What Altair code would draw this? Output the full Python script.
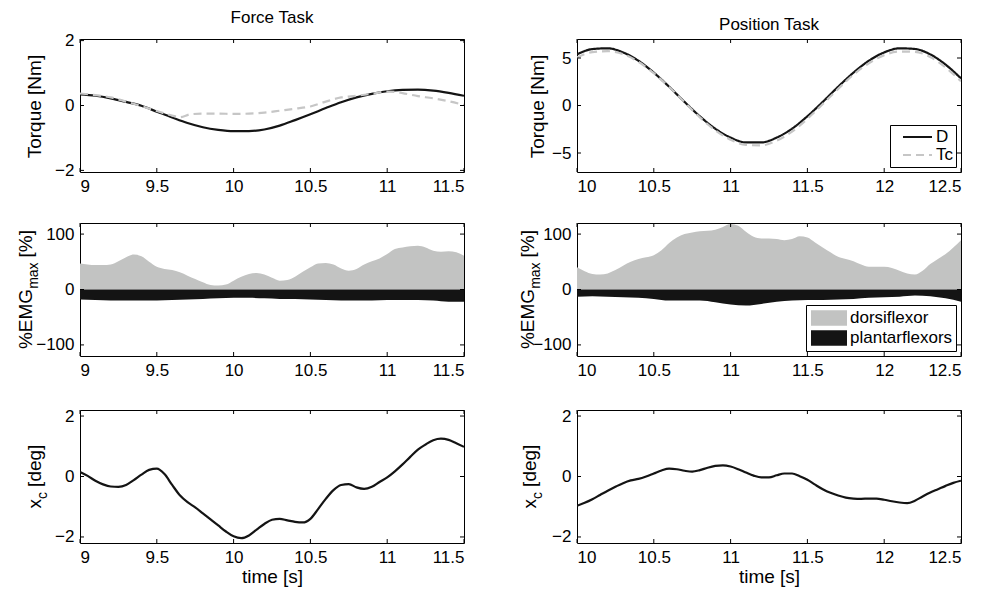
import altair as alt
import pandas as pd

FONT = "Liberation Sans"
BLACK = "#141414"
GRAY_LINE = "#c6c6c6"
GRAY_FILL = "#c2c3c2"
W, H = 384, 133

# ---------------- data ----------------
# Force task: torque
force_t = [9.0, 9.1, 9.2, 9.3, 9.4, 9.5, 9.6, 9.7, 9.8, 9.9, 10.0, 10.1, 10.2,
           10.3, 10.4, 10.5, 10.6, 10.7, 10.8, 10.9, 11.0, 11.1, 11.2, 11.3, 11.4, 11.5]
force_D = [0.34, 0.30, 0.22, 0.11, -0.01, -0.19, -0.37, -0.54, -0.67, -0.75, -0.79, -0.79, -0.74,
           -0.62, -0.45, -0.27, -0.08, 0.10, 0.25, 0.36, 0.44, 0.48, 0.49, 0.46, 0.39, 0.30]
force_tc_t = [9.0, 9.1, 9.2, 9.3, 9.4, 9.5, 9.6, 9.65, 9.72, 9.8, 9.9, 10.0, 10.1, 10.2, 10.3,
              10.4, 10.5, 10.6, 10.7, 10.8, 10.9, 11.0, 11.05, 11.1, 11.2, 11.3, 11.4, 11.5]
force_Tc = [0.37, 0.32, 0.25, 0.12, -0.02, -0.17, -0.31, -0.36, -0.27, -0.25, -0.25, -0.26, -0.25,
            -0.22, -0.16, -0.10, -0.03, 0.12, 0.25, 0.30, 0.36, 0.43, 0.42, 0.38, 0.29, 0.22, 0.13, 0.02]

# Position task: torque
pos_t = [10.0, 10.1, 10.2, 10.3, 10.4, 10.5, 10.6, 10.7, 10.8, 10.9, 11.0, 11.1, 11.2,
         11.3, 11.4, 11.5, 11.6, 11.7, 11.8, 11.9, 12.0, 12.1, 12.2, 12.3, 12.4, 12.5]
pos_D = [5.38, 5.94, 6.02, 5.59, 4.71, 3.46, 1.97, 0.38, -1.14, -2.44, -3.38, -3.89, -3.89,
         -3.38, -2.44, -1.13, 0.38, 1.97, 3.46, 4.71, 5.59, 6.02, 5.95, 5.38, 4.30, 2.85]
pos_Tc = [5.05, 5.62, 5.72, 5.40, 4.60, 3.40, 1.95, 0.35, -1.25, -2.60, -3.60, -4.15, -4.20,
          -3.70, -2.75, -1.40, 0.15, 1.75, 3.25, 4.45, 5.30, 5.68, 5.65, 5.10, 4.00, 2.55]

# Force task: EMG
force_emg_t = [9.0, 9.05, 9.1, 9.15, 9.2, 9.25, 9.3, 9.35, 9.4, 9.45, 9.5, 9.55, 9.6, 9.65, 9.7,
               9.75, 9.8, 9.85, 9.9, 9.95, 10.0, 10.05, 10.1, 10.15, 10.2, 10.25, 10.3, 10.35,
               10.4, 10.45, 10.5, 10.55, 10.6, 10.65, 10.7, 10.75, 10.8, 10.85, 10.9, 10.95,
               11.0, 11.05, 11.1, 11.15, 11.2, 11.25, 11.3, 11.35, 11.4, 11.45, 11.5]
force_dorsi = [47, 45, 44, 44, 45, 51, 58, 63, 60, 50, 41, 37, 35, 31, 25,
               19, 13, 8, 7, 9, 16, 23, 28, 30, 27, 21, 16, 17,
               23, 32, 40, 47, 48, 45, 38, 34, 37, 45, 51, 56,
               64, 73, 76, 78, 79, 76, 70, 68, 69, 67, 61]
force_pl_t = force_t
force_plantar = [-18, -19, -20, -20, -20, -20, -19, -18, -17, -16, -15, -15, -16,
                 -17, -17, -18, -19, -20, -20, -20, -19, -19, -19, -20, -22, -22]

# Position task: EMG
pos_emg_t = [10.0, 10.05, 10.1, 10.15, 10.2, 10.25, 10.3, 10.35, 10.4, 10.45, 10.5, 10.55, 10.6,
             10.65, 10.7, 10.75, 10.8, 10.85, 10.9, 10.95, 11.0, 11.05, 11.1, 11.15, 11.2, 11.25,
             11.3, 11.35, 11.4, 11.45, 11.5, 11.55, 11.6, 11.65, 11.7, 11.75, 11.8, 11.85, 11.9,
             11.95, 12.0, 12.05, 12.1, 12.15, 12.2, 12.25, 12.3, 12.35, 12.4, 12.45, 12.5]
pos_dorsi = [40, 33, 28, 27, 29, 35, 43, 50, 55, 58, 62, 71, 84,
             94, 100, 103, 105, 106, 108, 113, 118, 115, 104, 95, 92, 92,
             91, 89, 91, 96, 94, 85, 76, 67, 59, 55, 51, 45, 41,
             41, 41, 39, 34, 29, 27, 34, 46, 55, 64, 76, 89]
pos_pl_t = pos_t
pos_plantar = [-13, -12, -13, -14, -15, -17, -20, -20, -20, -23, -27, -29, -26,
               -22, -20, -19, -19, -18, -17, -15, -14, -13, -11, -12, -16, -22]

# x_c
force_xc_t = force_emg_t
force_xc = [0.15, 0.02, -0.14, -0.26, -0.33, -0.34, -0.28, -0.12, 0.06, 0.22, 0.26, 0.08, -0.28,
            -0.62, -0.85, -1.02, -1.22, -1.42, -1.62, -1.82, -1.98, -2.04, -1.95, -1.76, -1.57,
            -1.43, -1.40, -1.45, -1.50, -1.52, -1.40, -1.08, -0.74, -0.45, -0.28, -0.25, -0.36,
            -0.41, -0.34, -0.18, -0.03, 0.17, 0.40, 0.65, 0.89, 1.06, 1.20, 1.25, 1.21, 1.10, 0.98]
pos_xc_t = pos_emg_t
pos_xc = [-0.97, -0.87, -0.75, -0.61, -0.47, -0.34, -0.22, -0.13, -0.08, 0.00, 0.10, 0.20, 0.26,
          0.24, 0.19, 0.16, 0.21, 0.29, 0.35, 0.37, 0.33, 0.24, 0.13, 0.03, -0.03, -0.03,
          0.04, 0.10, 0.10, 0.01, -0.11, -0.27, -0.42, -0.54, -0.63, -0.70, -0.73, -0.74, -0.73,
          -0.73, -0.77, -0.82, -0.86, -0.88, -0.80, -0.66, -0.53, -0.42, -0.31, -0.21, -0.14]

force_xticks = [9, 9.5, 10, 10.5, 11, 11.5]
pos_xticks = [10, 10.5, 11, 11.5, 12, 12.5]

# ------------- helpers -------------
CHAR_W = {'%': 0.889, 'E': 0.667, 'M': 0.833, 'G': 0.778, 'm': 0.833, 'a': 0.556, 'x': 0.5,
          ' ': 0.278, '[': 0.278, ']': 0.278, 'd': 0.556, 'e': 0.556, 'g': 0.556, 'c': 0.5,
          'T': 0.611, 'o': 0.556, 'r': 0.333, 'q': 0.556, 'u': 0.556, 'N': 0.722}


def text_len(s, fs):
    return sum(CHAR_W.get(ch, 0.556) for ch in s) * fs


one = pd.DataFrame({'a': [0]})
TFS = 19  # axis title font size
SFS = 14  # subscript font size


def ytitle_layers(pieces, xbase):
    # pieces: (text, fontSize, baseline shift, gap before)
    total = sum(text_len(t, fs) + gap for t, fs, _, gap in pieces)
    y = H / 2 + total / 2
    out = []
    for t, fs, shift, gap in pieces:
        y -= gap
        out.append(alt.Chart(one).mark_text(angle=270, align='left', baseline='alphabetic',
                                            fontSize=fs, font=FONT, color='black')
                   .encode(x=alt.value(xbase + shift), y=alt.value(y), text=alt.value(t)))
        y -= text_len(t, fs)
    return out


def panel(layers, xdom, ydom, xticks, yticks, pieces, xbase, title=None, xtitle=None):
    xaxis = alt.Axis(values=xticks, format='~r', tickSize=0, domain=False, grid=False,
                     labelPadding=6, title=xtitle, titlePadding=2)
    yaxis = alt.Axis(values=yticks, format='~r', tickSize=0, domain=False, grid=False,
                     labelPadding=6, title=None)
    xe = alt.X('x:Q', scale=alt.Scale(domain=xdom, nice=False, zero=False), axis=xaxis)
    ye = alt.Y('y:Q', scale=alt.Scale(domain=ydom, nice=False, zero=False), axis=yaxis)
    charts = [f(xe, ye) for f in layers]
    xt = alt.Chart(pd.DataFrame({'x': xticks}))
    yt = alt.Chart(pd.DataFrame({'y': yticks}))
    charts += [
        xt.mark_rule(color='black', strokeWidth=1).encode(x=xe, y=alt.value(H), y2=alt.value(H - 4)),
        xt.mark_rule(color='black', strokeWidth=1).encode(x=xe, y=alt.value(0), y2=alt.value(4)),
        yt.mark_rule(color='black', strokeWidth=1).encode(y=ye, x=alt.value(0), x2=alt.value(4)),
        yt.mark_rule(color='black', strokeWidth=1).encode(y=ye, x=alt.value(W), x2=alt.value(W - 4)),
    ]
    charts += ytitle_layers(pieces, xbase)
    ch = alt.layer(*charts).properties(width=W, height=H)
    if title:
        ch = ch.properties(title=alt.TitleParams(title, anchor='middle', offset=5, fontSize=17,
                                                 font=FONT, fontWeight='normal', color='black'))
    return ch


def line_layer(t, v, color, dash=None):
    df = pd.DataFrame({'x': t, 'y': v})

    def f(xe, ye):
        kw = dict(color=color, strokeWidth=2.2, interpolate='monotone', clip=True)
        if dash:
            kw['strokeDash'] = dash
        return alt.Chart(df).mark_line(**kw).encode(x=xe, y=ye)
    return f


def legend_lines(t, d, tc):
    df = pd.DataFrame({'x': t + t, 'y': d + tc, 's': ['D'] * len(t) + ['Tc'] * len(t)})
    leg = dict(orient='bottom-right', offset=5, strokeColor='black', fillColor='white',
               padding=3, title=None, labelFontSize=17, labelFont=FONT, labelColor='black',
               symbolType='stroke', symbolSize=841, symbolStrokeWidth=2, rowPadding=0,
               clipHeight=18, symbolOffset=9, labelOffset=3, cornerRadius=0)

    def f(xe, ye):
        return alt.Chart(df).mark_line(strokeWidth=2.2, interpolate='monotone', clip=True).encode(
            x=xe, y=ye,
            color=alt.Color('s:N', scale=alt.Scale(domain=['D', 'Tc'], range=[BLACK, GRAY_LINE]),
                            legend=alt.Legend(**leg)),
            strokeDash=alt.StrokeDash('s:N', scale=alt.Scale(domain=['D', 'Tc'], range=[[1, 0], [8, 5]]),
                                      legend=alt.Legend(**leg)))
    return f


def area_layer(td, vd, tp, vp, show_legend):
    df = pd.DataFrame({'x': list(td) + list(tp), 'y': list(vd) + list(vp),
                       's': ['dorsiflexor'] * len(td) + ['plantarflexors'] * len(tp)})
    sc = alt.Scale(domain=['dorsiflexor', 'plantarflexors'], range=[GRAY_FILL, BLACK])
    if show_legend:
        lg = alt.Legend(orient='bottom-right', offset=5, strokeColor='black', fillColor='white',
                        padding=3, title=None, labelFontSize=17, labelFont=FONT, labelColor='black',
                        symbolType='M-1,-0.43L1,-0.43L1,0.43L-1,0.43Z', symbolSize=1296,
                        symbolStrokeWidth=0, symbolOpacity=1, rowPadding=0, clipHeight=20,
                        labelOffset=3, symbolOffset=2, cornerRadius=0)
        col = alt.Color('s:N', scale=sc, legend=lg)
    else:
        col = alt.Color('s:N', scale=sc, legend=None)

    def f(xe, ye):
        return alt.Chart(df).mark_area(interpolate='monotone', opacity=1, clip=True).encode(
            x=xe, y=ye, y2=alt.datum(0), color=col)
    return f


TORQUE = [('Torque [Nm]', TFS, 0, 0)]
EMG = [('%EMG', TFS, 0, 0), ('max', SFS, 6, 0), ('[%]', TFS, 0, 5)]
XC = [('x', TFS, 0, 0), ('c', SFS, 6, 0), ('[deg]', TFS, 0, 5)]

p1 = panel([line_layer(force_t, force_D, BLACK), line_layer(force_tc_t, force_Tc, GRAY_LINE, [8, 5])],
           [9, 11.5], [-2.05, 2.05], force_xticks, [-2, 0, 2], TORQUE, -39, title='Force Task')
p2 = panel([legend_lines(pos_t, pos_D, pos_Tc)],
           [10, 12.5], [-7, 7], pos_xticks, [-5, 0, 5], TORQUE, -33, title='Position Task')
p3 = panel([area_layer(force_emg_t, force_dorsi, force_pl_t, force_plantar, False)],
           [9, 11.5], [-120, 120], force_xticks, [-100, 0, 100], EMG, -48)
p4 = panel([area_layer(pos_emg_t, pos_dorsi, pos_pl_t, pos_plantar, True)],
           [10, 12.5], [-120, 120], pos_xticks, [-100, 0, 100], EMG, -43)
p5 = panel([line_layer(force_xc_t, force_xc, BLACK)],
           [9, 11.5], [-2.2, 2.2], force_xticks, [-2, 0, 2], XC, -39, xtitle='time [s]')
p6 = panel([line_layer(pos_xc_t, pos_xc, BLACK)],
           [10, 12.5], [-2.2, 2.2], pos_xticks, [-2, 0, 2], XC, -41, xtitle='time [s]')

chart = alt.concat(p1, p2, p3, p4, p5, p6, columns=2, spacing={'row': 27, 'column': 53}).resolve_scale(
    color='independent', strokeDash='independent', x='independent', y='independent'
).configure_view(stroke='black', strokeWidth=1).configure_axis(
    labelFont=FONT, labelFontSize=17, labelColor='black', titleFont=FONT, titleFontSize=19,
    titleColor='black', titleFontWeight='normal'
).properties(padding={'left': 8, 'top': 0, 'right': 5, 'bottom': 0}, background='white')

chart.save("out.html", embed_options={"renderer": "svg", "actions": False})
